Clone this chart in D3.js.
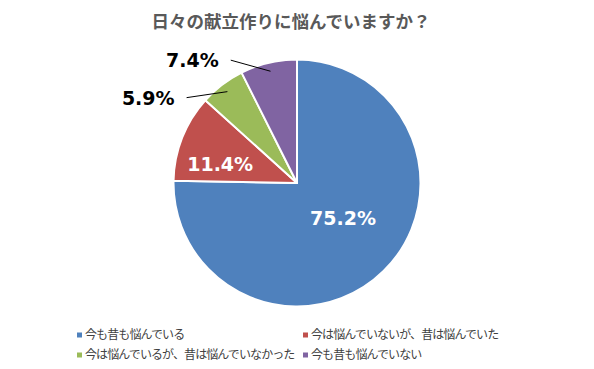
<!DOCTYPE html>
<html>
<head>
<meta charset="utf-8">
<script src="https://cdn.jsdelivr.net/npm/d3@7"></script>
<style>
  body { margin: 0; background: #fff; }
  svg { display: block; }
</style>
</head>
<body>
<script>
var categories = [
  "今も昔も悩んでいる",
  "今は悩んでいないが、昔は悩んでいた",
  "今は悩んでいるが、昔は悩んでいなかった",
  "今も昔も悩んでいない"
];
var values = [75.2, 11.4, 5.9, 7.4];
var labels = ["75.2%", "11.4%", "5.9%", "7.4%"];
var colors = ["#4F81BD", "#C0504D", "#9BBB59", "#8064A2"];

var width = 594, height = 369;
var cx = 297, cy = 183, radius = 123.5;

var svg = d3.select(document.body).append("svg")
  .attr("width", width)
  .attr("height", height);

svg.append("text")
  .attr("x", 291)
  .attr("y", 28)
  .attr("text-anchor", "middle")
  .attr("font-family", "'Noto Sans CJK JP', sans-serif")
  .attr("font-weight", "bold")
  .attr("font-size", "17.5px")
  .attr("fill", "#595959")
  .text("日々の献立作りに悩んでいますか？");

var pie = d3.pie().sort(null).value(function(d) { return d; });
var arcs = pie(values);
var arc = d3.arc().innerRadius(0).outerRadius(radius);

var g = svg.append("g").attr("transform", "translate(" + cx + "," + cy + ")");

g.selectAll("path.slice")
  .data(arcs)
  .enter().append("path")
  .attr("class", "slice")
  .attr("d", arc)
  .attr("fill", function(d, i) { return colors[i]; })
  .attr("stroke", "#fff")
  .attr("stroke-width", 2)
  .attr("stroke-linejoin", "round");

function polar(a, r) {
  return [r * Math.sin(a), -r * Math.cos(a)];
}
function mid(d) { return (d.startAngle + d.endAngle) / 2; }
var deg = Math.PI / 180;

// inside labels (first two slices), outside with leader line (last two)
var inside = [0.47, 0.64];
arcs.forEach(function(d, i) {
  var font = "'DejaVu Sans', Verdana, sans-serif";
  if (i < 2) {
    var p = polar(mid(d) - 8 * deg, inside[i] * radius);
    g.append("text")
      .attr("x", p[0]).attr("y", p[1])
      .attr("dy", "0.36em")
      .attr("text-anchor", "middle")
      .attr("font-family", font)
      .attr("font-weight", "bold")
      .attr("font-size", "19px")
      .attr("fill", "#fff")
      .text(labels[i]);
  } else {
    var s = polar(mid(d) - 15 * deg, radius * 1.13);
    var e = polar(mid(d), radius * 0.93);
    g.append("line")
      .attr("x1", s[0]).attr("y1", s[1])
      .attr("x2", e[0]).attr("y2", e[1])
      .attr("stroke", "#000")
      .attr("stroke-width", 1);
    g.append("text")
      .attr("x", s[0] - 12).attr("y", s[1])
      .attr("dy", "0.36em")
      .attr("text-anchor", "end")
      .attr("font-family", font)
      .attr("font-weight", "bold")
      .attr("font-size", "19px")
      .attr("fill", "#000")
      .text(labels[i]);
  }
});

// legend, two columns
var legX = [77, 303], legY = [335, 355];
var leg = svg.selectAll("g.leg")
  .data(categories)
  .enter().append("g")
  .attr("class", "leg")
  .attr("transform", function(d, i) {
    return "translate(" + legX[i % 2] + "," + legY[Math.floor(i / 2)] + ")";
  });
leg.append("rect")
  .attr("x", 0).attr("y", -2.5)
  .attr("width", 5).attr("height", 5)
  .attr("fill", function(d, i) { return colors[i]; });
leg.append("text")
  .attr("x", 8)
  .attr("dy", "0.36em")
  .attr("font-family", "'Noto Sans CJK JP', sans-serif")
  .attr("font-size", "12px")
  .attr("letter-spacing", "-0.9px")
  .attr("fill", "#404040")
  .text(function(d) { return d; });
</script>
</body>
</html>
